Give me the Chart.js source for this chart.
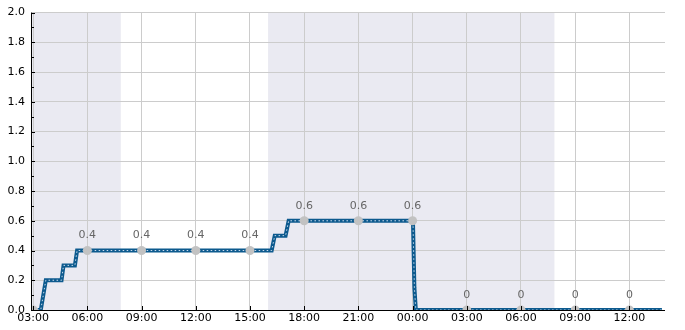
<!DOCTYPE html>
<html>
<head>
<meta charset="utf-8">
<script src="https://cdn.jsdelivr.net/npm/chart.js@4/dist/chart.umd.min.js"></script>
<style>
html,body{margin:0;padding:0;background:#fff;}
#wrap{width:685px;height:330px;position:relative;}
</style>
</head>
<body>
<div id="wrap"><canvas id="c" width="685" height="330"></canvas></div>
<script>
// hours since 00:00 of the first day
const lineHours  = [3.25, 3.42, 3.7, 4.57, 4.68, 5.31, 5.43, 16.2, 16.37, 16.97, 17.14, 24.02, 24.1, 24.18, 37.8];
const lineValues = [0,    0,    0.2, 0.2,  0.3,  0.3,  0.4,  0.4,  0.5,   0.5,   0.6,   0.6,   0.15, 0,     0];
const markerHours  = [3, 6, 9, 12, 15, 18, 21, 24, 27, 30, 33, 36];
const markerValues = [0, 0.4, 0.4, 0.4, 0.4, 0.6, 0.6, 0.6, 0, 0, 0, 0];
const markerLabels = ['', '0.4', '0.4', '0.4', '0.4', '0.6', '0.6', '0.6', '0', '0', '0', '0'];
const nightStart = [2.88, 16.0];
const nightEnd   = [7.85, 31.85];
const xMin = 2.88, xMax = 37.97;
const yMin = 0, yMax = 2.0;

const FONT = "'DejaVu Sans', sans-serif";

const shadePlugin = {
  id: 'shade',
  beforeDraw(chart) {
    const {ctx, chartArea: a, scales: {x}} = chart;
    ctx.save();
    ctx.fillStyle = '#eaeaf2';
    for (let i = 0; i < nightStart.length; i++) {
      const x0 = Math.max(a.left, x.getPixelForValue(nightStart[i]));
      const x1 = Math.min(a.right, x.getPixelForValue(nightEnd[i]));
      ctx.fillRect(x0, a.top, x1 - x0, a.bottom - a.top);
    }
    ctx.restore();
  }
};

const axesPlugin = {
  id: 'axesDecor',
  afterDatasetsDraw(chart) {
    const {ctx, chartArea: a, scales: {x, y}} = chart;
    ctx.save();
    ctx.strokeStyle = '#000';
    ctx.lineWidth = 1;
    for (let i = 0; i <= 20; i++) {
      const v = i / 10;
      const py = Math.round(y.getPixelForValue(v)) + 0.5;
      const len = (i % 2 === 0) ? 4 : 3;
      ctx.beginPath();
      ctx.moveTo(a.left, py);
      ctx.lineTo(a.left + len, py);
      ctx.stroke();
    }
    for (const h of markerHours) {
      const px = Math.round(x.getPixelForValue(h)) + 0.5;
      ctx.beginPath();
      ctx.moveTo(px, a.bottom);
      ctx.lineTo(px, a.bottom - 4);
      ctx.stroke();
    }
    ctx.beginPath();
    ctx.moveTo(Math.round(a.left) + 0.5, a.top);
    ctx.lineTo(Math.round(a.left) + 0.5, a.bottom);
    ctx.moveTo(a.left, Math.round(a.bottom) + 0.5);
    ctx.lineTo(a.right, Math.round(a.bottom) + 0.5);
    ctx.stroke();
    ctx.restore();
  },
  afterDraw(chart) {
    const {ctx, scales: {x, y}} = chart;
    ctx.save();
    ctx.fillStyle = '#666';
    ctx.font = '11px ' + FONT;
    ctx.textAlign = 'center';
    ctx.textBaseline = 'middle';
    for (let i = 0; i < markerHours.length; i++) {
      if (!markerLabels[i]) continue;
      const px = x.getPixelForValue(markerHours[i]);
      const py = y.getPixelForValue(markerValues[i]);
      ctx.fillText(markerLabels[i], px, py - 15);
    }
    ctx.restore();
  }
};

const lineData = lineHours.map((h, i) => ({x: h, y: lineValues[i]}));
const markerData = markerHours.map((h, i) => ({x: h, y: markerValues[i]}));

new Chart(document.getElementById('c'), {
  type: 'line',
  data: {
    datasets: [
      {
        data: markerData,
        showLine: false,
        pointRadius: 4.5,
        pointBackgroundColor: '#c2c2c2',
        pointBorderWidth: 0,
        order: 0
      },
      {
        data: lineData,
        borderColor: 'rgba(225,235,248,0.9)',
        borderWidth: 1,
        borderDash: [1.5, 2.5],
        pointRadius: 0,
        fill: false,
        order: 1
      },
      {
        data: lineData,
        borderColor: '#0d5a8e',
        borderWidth: 4,
        pointRadius: 0,
        fill: false,
        order: 2
      }
    ]
  },
  options: {
    responsive: false,
    animation: false,
    devicePixelRatio: 1,
    layout: {padding: {top: 10, right: 20, left: 0, bottom: 0}},
    plugins: {legend: {display: false}, tooltip: {enabled: false}},
    scales: {
      x: {
        type: 'linear',
        min: xMin, max: xMax,
        afterBuildTicks(scale) {
          scale.ticks = markerHours.map(h => ({value: h}));
        },
        afterFit(scale) { scale.height = 20; },
        ticks: {
          color: '#000',
          font: {family: FONT, size: 11},
          padding: 2,
          maxRotation: 0,
          autoSkip: false,
          callback: (v) => String(((v % 24) + 24) % 24).padStart(2, '0') + ':00'
        },
        grid: {color: '#cccccc', lineWidth: 1, drawTicks: false},
        border: {display: false}
      },
      y: {
        min: yMin, max: yMax,
        afterFit(scale) { scale.width = 31; },
        ticks: {
          stepSize: 0.2,
          color: '#000',
          font: {family: FONT, size: 11},
          padding: 6,
          callback: (v) => Number(v).toFixed(1)
        },
        grid: {color: '#cccccc', lineWidth: 1, drawTicks: false},
        border: {display: false}
      }
    }
  },
  plugins: [shadePlugin, axesPlugin]
});
</script>
</body>
</html>
